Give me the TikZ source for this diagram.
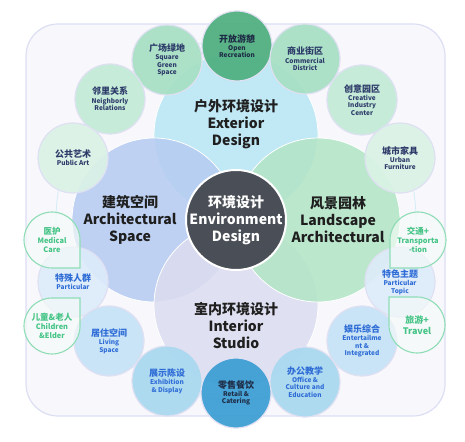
\documentclass[tikz,border=0pt]{standalone}
\usepackage{fontspec}
\setmainfont{Noto Sans CJK SC}
\definecolor{framebg}{HTML}{F8F8FC}
\definecolor{framec}{HTML}{DCDFF3}
\definecolor{orbitc}{HTML}{D2ECF8}
\definecolor{extc}{HTML}{B8E6F4}
\definecolor{archc}{HTML}{B6CCF1}
\definecolor{landc}{HTML}{B3E5C6}
\definecolor{intc}{HTML}{DCDDF0}
\definecolor{corec}{HTML}{4A4F57}
\definecolor{rimc}{HTML}{DFE0F2}
\definecolor{navy}{HTML}{2D3B69}
\definecolor{darktxt}{HTML}{1E2B45}
\definecolor{bluetxt}{HTML}{2E6CD6}
\definecolor{droptxt}{HTML}{44C486}
\definecolor{dropc}{HTML}{8EDDB6}
\definecolor{dropbg}{HTML}{F6FBF8}
\definecolor{greenA}{HTML}{4DAE7E}
\definecolor{greenB}{HTML}{A6E0C4}
\definecolor{greenC}{HTML}{C2EBD7}
\definecolor{greenD}{HTML}{DAF2E6}
\definecolor{blueA}{HTML}{3A9CD3}
\definecolor{blueB}{HTML}{A8D8F0}
\definecolor{blueC}{HTML}{C5E3F6}
\definecolor{blueD}{HTML}{DDECFA}
\tikzset{
  bigcircle/.style={circle, minimum size=164pt, inner sep=0pt, draw=white, line width=0.8pt, fill opacity=0.87},
  bigtext/.style={align=center, text=black!88, font=\bfseries\fontsize{14}{17}\selectfont},
  smallcircle/.style={circle, minimum size=70pt, inner sep=0pt, draw=rimc, line width=1.2pt, fill opacity=0.92, text opacity=1, align=center, text=navy, font=\bfseries\fontsize{6.5}{7.6}\selectfont},
  dropline/.style={draw=dropc, line width=1.1pt, fill=dropbg, fill opacity=0.65},
  droptext/.style={align=center, text=droptxt, font=\bfseries\fontsize{7.4}{9}\selectfont},
}
\newcommand{\cn}[1]{{\fontsize{9}{10}\selectfont #1}}
\newcommand{\dropedge}[2]{%
  \path[dropline] ([shift={(#2:28pt)}]#1) arc[start angle=#2, end angle=#2+270, radius=28pt]
    -- ([shift={(#2-45:39.6pt)}]#1) -- cycle;}
\begin{document}
\begin{tikzpicture}[x=1pt, y=1pt]
  \useasboundingbox (0,0) rectangle (465,441);
  \path[draw=framec, line width=1.2pt, fill=framebg, rounded corners=32pt] (26,25) rectangle (445,417);
  \node[circle, draw=orbitc, line width=0.8pt, minimum size=360pt, inner sep=0pt] (orbit) at (236,221) {};

  % four fields
  \node[bigcircle, fill=extc] (ext) at (236,306) {};
  \node[bigcircle, fill=archc] (arch) at (154,221) {};
  \node[bigcircle, fill=intc] (int) at (236,136) {};
  \node[bigcircle, fill=landc] (land) at (318,221) {};
  \node[circle, minimum size=100pt, inner sep=0pt, fill=corec, draw=white, line width=2pt] (core) at (236,221) {};

  \node[bigtext] (extlbl) at (236,317) {户外环境设计\\Exterior\\Design};
  \node[bigtext] (archlbl) at (130,221) {建筑空间\\Architectural\\Space};
  \node[bigtext] (landlbl) at (338,221) {风景园林\\Landscape\\Architectural};
  \node[bigtext] (intlbl) at (236,115) {室内环境设计\\Interior\\Studio};
  \node[bigtext, text=white] (corelbl) at (236,221) {环境设计\\Environment\\Design};

  % outdoor ring
  \node[smallcircle, fill=greenA, text=darktxt] (open) at (237,395) {\cn{开放游憩}\\[0.5pt]Open\\Recreation};
  \node[smallcircle, fill=greenB] (square) at (167,381) {\cn{广场绿地}\\[0.5pt]Square\\Green\\Space};
  \node[smallcircle, fill=greenB] (commercial) at (305,382) {\cn{商业街区}\\[0.5pt]Commercial\\District};
  \node[smallcircle, fill=greenC] (neighbor) at (110,342) {\cn{邻里关系}\\[0.5pt]Neighborly\\Relations};
  \node[smallcircle, fill=greenC] (creative) at (362,341) {\cn{创意园区}\\[0.5pt]Creative\\Industry\\Center};
  \node[smallcircle, fill=greenD] (publicart) at (73,283) {\cn{公共艺术}\\[0.5pt]Public Art};
  \node[smallcircle, fill=greenD] (urban) at (400,283) {\cn{城市家具}\\[0.5pt]Urban\\Furniture};

  % indoor ring
  \node[smallcircle, fill=blueD, text=bluetxt] (particular) at (73,159) {\cn{特殊人群}\\[0.5pt]Particular};
  \node[smallcircle, fill=blueD, text=bluetxt] (topic) at (400,159) {\cn{特色主题}\\[0.5pt]Particular\\Topic};
  \node[smallcircle, fill=blueC, text=bluetxt] (living) at (109,100) {\cn{居住空间}\\[0.5pt]Living\\Space};
  \node[smallcircle, fill=blueC, text=bluetxt] (entertain) at (362,100) {\cn{娱乐综合}\\[0.5pt]Entertailme\\nt \&\\Integrated};
  \node[smallcircle, fill=blueB, text=bluetxt] (exhibition) at (167,60) {\cn{展示陈设}\\[0.5pt]Exhibition\\\& Display};
  \node[smallcircle, fill=blueB, text=bluetxt] (office) at (305,59) {\cn{办公教学}\\[0.5pt]Office \&\\Culture and\\Education};
  \node[smallcircle, fill=blueA, text=darktxt] (retail) at (236,48) {\cn{零售餐饮}\\[0.5pt]Retail \&\\Catering};

  % tear drops
  \coordinate (medicalc) at (52,201);
  \coordinate (childc) at (52,115);
  \coordinate (transc) at (418,201);
  \coordinate (travelc) at (417,116);
  \dropedge{medicalc}{0}
  \dropedge{childc}{90}
  \dropedge{transc}{270}
  \dropedge{travelc}{180}
  \node[droptext] (medical) at (medicalc) {{\fontsize{8.5}{9}\selectfont 医护}\\Medical\\Care};
  \node[droptext] (child) at (childc) {{\fontsize{8.5}{9}\selectfont 儿童\&老人}\\Children\\\&Elder};
  \node[droptext] (trans) at (transc) {{\fontsize{8.5}{9}\selectfont 交通+}\\Transporta\\-tion};
  \node[droptext, font=\bfseries\fontsize{9}{11}\selectfont] (travel) at (travelc) {旅游+\\Travel};
\end{tikzpicture}
\end{document}
